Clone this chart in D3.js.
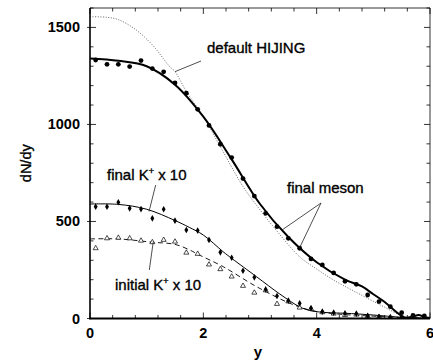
<!DOCTYPE html>
<html>
<head>
<meta charset="utf-8">
<script src="https://cdn.jsdelivr.net/npm/d3@7/dist/d3.min.js"></script>
<style>
  html, body { margin: 0; padding: 0; background: #fff; }
  svg { display: block; }
  text { font-family: "Liberation Sans", Arial, Helvetica, sans-serif; fill: #000; }
  text.heavy { stroke: #000; stroke-width: 0.35px; }
</style>
</head>
<body>
<svg id="chart" width="433" height="362"></svg>
<script>
// ---- data ----
const pointY = [0.1,0.3,0.5,0.7,0.9,1.1,1.3,1.5,1.7,1.9,2.1,2.3,2.5,2.7,2.9,3.1,3.3,3.5,3.7,3.9,4.1,4.3,4.5,4.7,4.9,5.1,5.3,5.5,5.7,5.9];
const mesonPts = [1332,1310,1310,1298,1329,1288,1271,1214,1161,1078,995,898,829,721,631,542,473,413,362,307,276,235,192,176,121,87,61,30,16,13];
const finalKPts = [576,576,599,568,564,516,563,504,456,453,405,341,313,246,212,150,116,92,78,53,35,30,27,25,13,8,6,6,3,6];
const initKPts = [362,413,416,413,401,393,405,396,339,333,278,254,216,168,133,145,75,88,56,50,32,25,18,20,12,8,5,5,4,3];

const mesonLineX = [0,0.5,1.0,1.5,2.0,2.5,3.0,3.5,4.0,4.5,4.8,5.0,5.2,5.4,5.55,5.7,5.8,5.9,6.0];
const mesonLineY = [1340,1328,1300,1205,1040,820,590,420,290,200,165,125,85,35,5,10,18,8,2];

const hijingX = [0,0.3,0.5,0.8,1.1,1.4,1.5,1.7,2.0,2.3,2.7,3.0,3.3,3.7,4.0,4.3,4.6,4.9,5.2,5.5,5.7,6.0];
const hijingY = [1555,1552,1540,1490,1410,1300,1272,1170,1040,886,680,560,450,318,255,198,150,104,58,15,3,0];

const finalKLineX = [0,0.5,1.0,1.5,1.75,2.0,2.35,2.5,2.94,3.35,3.7,3.9,4.2,4.5,5.0,5.5,6.0];
const finalKLineY = [590,588,563,505,470,430,344,310,215,126,60,40,30,27,18,6,2];

const initKLineX = [0,0.5,1.1,1.5,1.76,1.91,2.35,2.94,3.53,3.9,4.3,5.0,5.5,6.0];
const initKLineY = [410,410,393,382,353,330,267,164,78,42,25,12,5,1];

const xMajor = [0,2,4,6];
const xMinor = [0.4,0.8,1.2,1.6,2.4,2.8,3.2,3.6,4.4,4.8,5.2,5.6];
const yMajor = [0,500,1000,1500];
const yMinor = [100,200,300,400,600,700,800,900,1100,1200,1300,1400,1600];

// ---- layout ----
const svg = d3.select("#chart");
const L = 90, R = 430, T = 8, B = 318.5;
const x = d3.scaleLinear().domain([0,6]).range([L,R]);
const y = d3.scaleLinear().domain([0,1600]).range([B,T]);

const g = svg.append("g");

svg.append("defs").append("clipPath").attr("id","clip")
  .append("rect").attr("x",L).attr("y",T).attr("width",R-L).attr("height",B-T);

const plot = g.append("g").attr("clip-path","url(#clip)");

const line = d3.line().curve(d3.curveCatmullRom.alpha(0.5));
function series(xs, ys) { return xs.map((v,i)=>[x(v), y(ys[i])]); }

plot.append("path").attr("d", line(series(hijingX, hijingY)))
  .attr("fill","none").attr("stroke","#555").attr("stroke-width",0.9)
  .attr("stroke-dasharray","1,1.6");
plot.append("path").attr("d", line(series(mesonLineX, mesonLineY)))
  .attr("fill","none").attr("stroke","#000").attr("stroke-width",2);
plot.append("path").attr("d", line(series(finalKLineX, finalKLineY)))
  .attr("fill","none").attr("stroke","#000").attr("stroke-width",1);
plot.append("path").attr("d", line(series(initKLineX, initKLineY)))
  .attr("fill","none").attr("stroke","#000").attr("stroke-width",0.9)
  .attr("stroke-dasharray","5,3.5");

plot.selectAll("circle.meson").data(pointY).enter().append("circle")
  .attr("cx", d=>x(d)).attr("cy",(d,i)=>y(mesonPts[i])).attr("r",2.4).attr("fill","#000");

plot.selectAll("path.tri").data(pointY).enter().append("path")
  .attr("transform",(d,i)=>`translate(${x(d)},${y(initKPts[i])})`)
  .attr("d", d3.symbol(d3.symbolTriangle, 11)())
  .attr("fill","#fff").attr("stroke","#000").attr("stroke-width",0.7);

plot.selectAll("path.dia").data(pointY).enter().append("path")
  .attr("transform",(d,i)=>`translate(${x(d)},${y(finalKPts[i])})`)
  .attr("d", d3.symbol(d3.symbolDiamond, 13)())
  .attr("fill","#000");

// frame
g.append("line").attr("x1",L).attr("x2",R).attr("y1",T).attr("y2",T).attr("stroke","#333").attr("stroke-width",1);
g.append("line").attr("x1",R).attr("x2",R).attr("y1",T).attr("y2",B).attr("stroke","#333").attr("stroke-width",1);
g.append("line").attr("x1",L).attr("x2",L).attr("y1",T).attr("y2",B+0.8).attr("stroke","#000").attr("stroke-width",1.6);
g.append("line").attr("x1",L-0.8).attr("x2",R).attr("y1",B).attr("y2",B).attr("stroke","#000").attr("stroke-width",1.8);

// ticks
const tk = g.append("g").attr("stroke","#000").attr("stroke-width",0.8);
xMajor.forEach(v=>{
  tk.append("line").attr("x1",x(v)).attr("x2",x(v)).attr("y1",B).attr("y2",B-6);
  tk.append("line").attr("x1",x(v)).attr("x2",x(v)).attr("y1",T).attr("y2",T+6);
});
xMinor.forEach(v=>{
  tk.append("line").attr("x1",x(v)).attr("x2",x(v)).attr("y1",B).attr("y2",B-3.5);
  tk.append("line").attr("x1",x(v)).attr("x2",x(v)).attr("y1",T).attr("y2",T+3.5);
});
yMajor.forEach(v=>{
  tk.append("line").attr("x1",L-3).attr("x2",L+6).attr("y1",y(v)).attr("y2",y(v));
  tk.append("line").attr("x1",R).attr("x2",R-6).attr("y1",y(v)).attr("y2",y(v));
});
yMinor.forEach(v=>{
  tk.append("line").attr("x1",L).attr("x2",L+3.5).attr("y1",y(v)).attr("y2",y(v));
  tk.append("line").attr("x1",R).attr("x2",R-3.5).attr("y1",y(v)).attr("y2",y(v));
});

// tick labels
g.selectAll("text.yl").data(yMajor).enter().append("text")
  .attr("x", L-10).attr("y", d=>y(d)+5).attr("text-anchor","end")
  .attr("font-size","14.5px").attr("font-weight","bold").text(d=>d);
g.selectAll("text.xl").data(xMajor).enter().append("text")
  .attr("x", d=>x(d)).attr("y", 338).attr("text-anchor","middle")
  .attr("font-size","14.5px").attr("font-weight","bold").text(d=>d);

// axis titles
g.append("text").attr("class","heavy").attr("transform",`translate(31,${(T+B)/2}) rotate(-90)`)
  .attr("text-anchor","middle").attr("font-size","14.5px").text("dN/dy");
g.append("text").attr("x",(L+R)/2-2).attr("y",357).attr("text-anchor","middle")
  .attr("font-size","15px").attr("font-weight","bold").text("y");

// annotations
const ann = g.append("g").attr("stroke","#222").attr("stroke-width",0.8);
ann.append("line").attr("x1",201).attr("y1",61).attr("x2",x(1.5)).attr("y2",y(1272));
ann.append("line").attr("x1",321).attr("y1",203).attr("x2",282).attr("y2",230);
ann.append("line").attr("x1",321).attr("y1",203).attr("x2",299.5).attr("y2",248);
ann.append("line").attr("x1",155.7).attr("y1",185).attr("x2",149).attr("y2",211.5);
ann.append("line").attr("x1",153.3).attr("y1",241.5).attr("x2",149.3).attr("y2",270);

g.append("text").attr("class","heavy").attr("x",207).attr("y",53).attr("font-size","15px").text("default HIJING");
g.append("text").attr("class","heavy").attr("x",287).attr("y",192.5).attr("font-size","15px").text("final meson");

const t1 = g.append("text").attr("class","heavy").attr("x",107).attr("y",179.5).attr("font-size","15px");
t1.append("tspan").text("final K");
t1.append("tspan").attr("font-size","9px").attr("dy",-6).text("+");
t1.append("tspan").attr("dy",6).text(" x 10");

const t2 = g.append("text").attr("class","heavy").attr("x",115).attr("y",289.5).attr("font-size","15px");
t2.append("tspan").text("initial K");
t2.append("tspan").attr("font-size","9px").attr("dy",-6).text("+");
t2.append("tspan").attr("dy",6).text(" x 10");
</script>
</body>
</html>
